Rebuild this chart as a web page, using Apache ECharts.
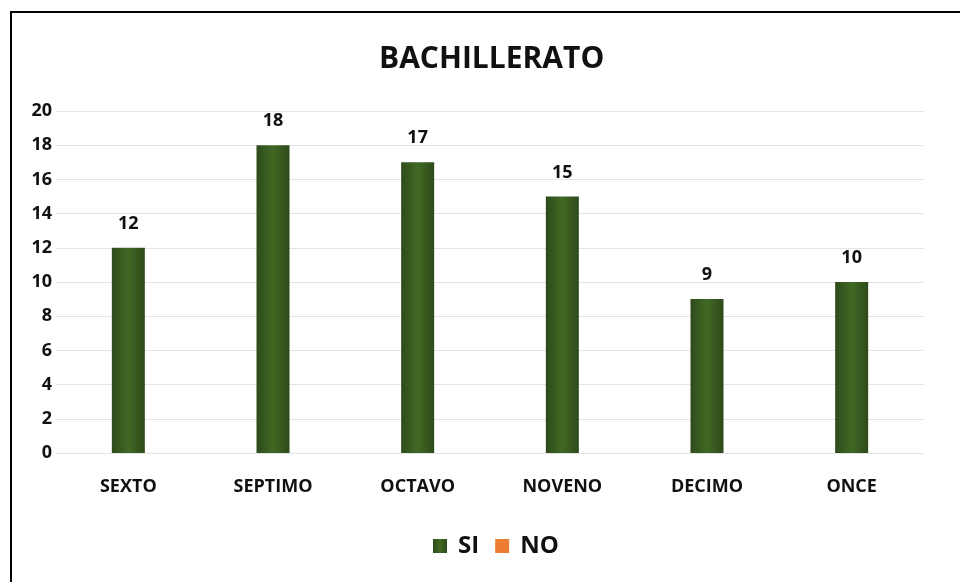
<!DOCTYPE html>
<html>
<head>
<meta charset="utf-8">
<script src="https://cdn.jsdelivr.net/npm/echarts@6/dist/echarts.min.js"></script>
<style>
html,body{margin:0;padding:0;background:#fff;}
#frame{position:absolute;left:10px;top:11px;width:960px;height:600px;border-left:2px solid #000;border-top:2px solid #000;}
#chart{position:absolute;left:0;top:0;width:960px;height:582px;}
</style>
</head>
<body>
<div id="frame"></div>
<div id="chart"></div>
<script>
const categories = ['SEXTO','SEPTIMO','OCTAVO','NOVENO','DECIMO','ONCE'];
const siValues = [12, 18, 17, 15, 9, 10];
const noValues = [];
const yTicks = {min: 0, max: 20, interval: 2};

const chart = echarts.init(document.getElementById('chart'));
const font = '"Open Sans", "Noto Sans", sans-serif';
chart.setOption({
  animation: false,
  backgroundColor: 'transparent',
  title: {
    text: 'BACHILLERATO', left: 374, top: 39,
    textStyle: {fontFamily: font, fontWeight: 'bold', fontSize: 30, color: '#111'}
  },
  legend: {
    bottom: 19, left: 428, itemWidth: 14, itemHeight: 14, itemGap: 16,
    icon: 'rect',
    textStyle: {fontFamily: font, fontWeight: 'bold', fontSize: 24, color: '#111', padding: [0, 0, 0, 6]},
    data: ['SI','NO']
  },
  grid: {left: 56, right: 36, top: 111, bottom: 129},
  xAxis: {
    type: 'category', data: categories,
    axisLine: {show: false}, axisTick: {show: false},
    axisLabel: {fontFamily: font, fontWeight: 'bold', fontSize: 18, color: '#111', margin: 25}
  },
  yAxis: {
    type: 'value', min: yTicks.min, max: yTicks.max, interval: yTicks.interval,
    axisLabel: {fontFamily: font, fontWeight: 'bold', fontSize: 18, color: '#111', margin: 4},
    splitLine: {lineStyle: {color: '#e4e4e4', width: 1}}
  },
  series: [
    {
      name: 'SI', type: 'bar', data: siValues, barWidth: 33, barGap: '-100%',
      itemStyle: {
        color: new echarts.graphic.LinearGradient(0, 0, 1, 0, [
          {offset: 0, color: '#2e4a1b'},
          {offset: 0.5, color: '#406924'},
          {offset: 1, color: '#2e4a1b'}
        ])
      },
      label: {show: true, position: 'top', distance: 15, fontFamily: font, fontWeight: 'bold', fontSize: 18, color: '#111'}
    },
    {
      name: 'NO', type: 'bar', data: noValues, barWidth: 33,
      itemStyle: {color: '#ed7d31'}
    }
  ]
});
</script>
</body>
</html>
